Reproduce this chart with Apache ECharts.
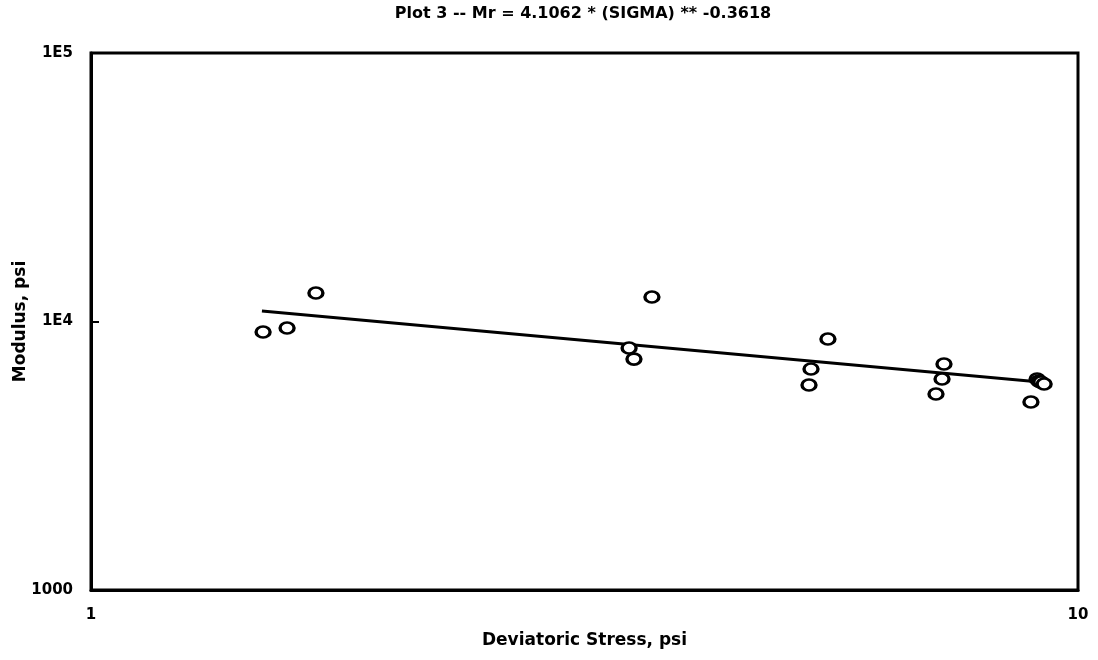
<!DOCTYPE html>
<html>
<head>
<meta charset="utf-8">
<script src="https://cdn.jsdelivr.net/npm/echarts@6/dist/echarts.min.js"></script>
<style>
html,body{margin:0;padding:0;background:#fff;}
#chart{width:1098px;height:660px;}
</style>
</head>
<body>
<div id="chart"></div>
<script>
// Measured data (deviatoric stress psi, modulus psi)
var stress  = [1.494, 1.580, 1.690, 3.509, 3.549, 3.701, 5.580, 5.364, 5.339, 7.315, 7.282, 7.180, 9.09, 9.13, 9.17, 9.24, 8.96];
var modulus = [9140, 9460, 12770, 7965, 7247, 12340, 8606, 6655, 5800, 6945, 6106, 5370, 6106, 6000, 5951, 5850, 5015];
// Fitted line endpoints
var fitStress  = [1.490, 9.15];
var fitModulus = [10940, 5951];
// Tick labels
var yTickLabels = {1000: '1000', 10000: '1E4', 100000: '1E5'};
var xTickLabels = {1: '1', 10: '10'};
var titleText = 'Plot 3 -- Mr = 4.1062 * (SIGMA) ** -0.3618';

var pts = stress.map(function (s, i) { return [s, modulus[i]]; });
var fit = fitStress.map(function (s, i) { return [s, fitModulus[i]]; });

var font = 'DejaVu Sans';
var chart = echarts.init(document.getElementById('chart'));
chart.setOption({
  animation: false,
  backgroundColor: '#fff',
  title: {
    text: titleText,
    left: 578, top: 1, textAlign: 'center',
    textStyle: {fontFamily: font, fontWeight: 'bold', fontSize: 16, color: '#000'}
  },
  grid: {left: 91, right: 20, top: 53, bottom: 70, containLabel: false, outerBoundsMode: 'none',
         show: true, borderColor: '#000', borderWidth: 3, backgroundColor: 'transparent'},
  xAxis: {
    type: 'log', logBase: 10, min: 1, max: 10,
    name: 'Deviatoric Stress, psi', nameLocation: 'middle', nameGap: 42, nameMoveOverlap: false,
    nameTextStyle: {fontFamily: font, fontWeight: 'bold', fontSize: 17, color: '#000'},
    axisLine: {lineStyle: {color: '#000', width: 3}},
    axisTick: {show: false},
    splitLine: {show: false},
    axisLabel: {
      fontFamily: font, fontWeight: 'bold', fontSize: 15, color: '#000', margin: 18,
      formatter: function (v) { return xTickLabels[Math.round(v)] || ''; }
    }
  },
  yAxis: {
    type: 'log', logBase: 10, min: 1000, max: 100000,
    name: 'Modulus, psi', nameLocation: 'middle', nameGap: 62, nameRotate: 90, nameMoveOverlap: false,
    nameTextStyle: {fontFamily: font, fontWeight: 'bold', fontSize: 17, color: '#000'},
    axisLine: {lineStyle: {color: '#000', width: 3}},
    axisTick: {show: true, inside: true, length: 8, lineStyle: {color: '#000', width: 2}},
    splitLine: {show: false},
    axisLabel: {
      fontFamily: font, fontWeight: 'bold', fontSize: 15, color: '#000', margin: 18,
      formatter: function (v) { return yTickLabels[Math.round(v)] || ''; }
    }
  },
  series: [
    {
      type: 'line', data: fit, symbol: 'none',
      lineStyle: {color: '#000', width: 3}, z: 2
    },
    {
      type: 'scatter', data: pts, symbol: 'circle', symbolSize: [14, 11],
      itemStyle: {color: '#fff', borderColor: '#000', borderWidth: 3, opacity: 1}, z: 3
    }
  ]
});
</script>
</body>
</html>
